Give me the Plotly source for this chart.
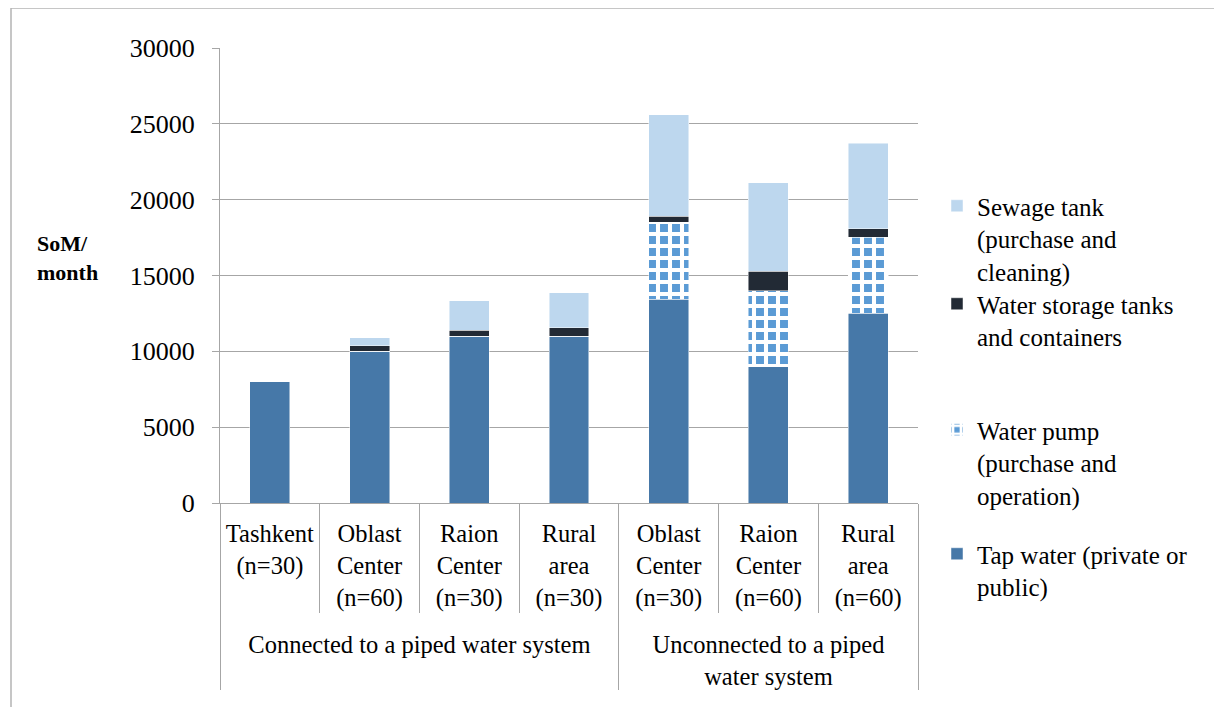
import plotly.graph_objects as go

# ---- data ----
groups = ["Connected to a piped water system"] * 4 + ["Unconnected to a piped<br>water system"] * 3
subcats = [
    "Tashkent<br>(n=30)",
    "Oblast<br>Center<br>(n=60)",
    "Raion<br>Center<br>(n=30)",
    "Rural<br>area<br>(n=30)",
    "Oblast<br>Center<br>(n=30)",
    "Raion<br>Center<br>(n=60)",
    "Rural<br>area<br>(n=60)",
]
tap_water = [8000, 10000, 11000, 11000, 13450, 9000, 12500]
water_pump = [0, 0, 0, 0, 5050, 5000, 5030]
storage_tanks = [0, 380, 390, 550, 420, 1270, 550]
sewage_tank = [0, 500, 1930, 2300, 6680, 5850, 5630]

series_names = [
    "Tap water (private or<br>public)",
    "Water pump<br>(purchase and<br>operation)",
    "Water storage tanks<br>and containers",
    "Sewage tank<br>(purchase and<br>cleaning)",
]
y_ticks = [0, 5000, 10000, 15000, 20000, 25000, 30000]

FONT = "Liberation Serif, Times New Roman, Times, serif"
GRID = "#A6A6A6"
FS = 25

# small invisible trailing line to give the lower label row more room
spacer = "<br><span style='font-size:1px'>&nbsp;</span>"
x = [groups, [s + spacer for s in subcats]]

W, H = 1222, 707
OFF = 8  # page offset of the plot div
L, R, T, B = 220, 918, 48, 503  # plot area in page pixels
pw, ph = R - L, B - T


def px_x(p):
    return (p - L) / pw


def px_y(p):
    return (B - p) / ph


fig = go.Figure()
edge = dict(color="rgba(255,255,255,0.6)", width=0.8)
fig.add_trace(go.Bar(x=x, y=tap_water, name=series_names[0], legend="legend4",
                     marker=dict(color="#4678A8", line=edge)))
fig.add_trace(go.Bar(x=x, y=water_pump, name=series_names[1], legend="legend3",
                     marker=dict(color="#5B9BD5", line=edge,
                                 pattern=dict(shape="+", fgcolor="white", bgcolor="#5B9BD5",
                                              size=12, solidity=0.56, fillmode="replace"))))
fig.add_trace(go.Bar(x=x, y=storage_tanks, name=series_names[2], legend="legend2",
                     marker=dict(color="#222A35", line=edge)))
fig.add_trace(go.Bar(x=x, y=sewage_tank, name=series_names[3], legend="legend",
                     marker=dict(color="#BDD7EE", line=edge)))


def leg(top_px):
    return dict(
        x=px_x(937), y=px_y(top_px), xanchor="left", yanchor="top",
        font=dict(family=FONT, size=FS, color="black"),
        itemwidth=30, valign="top",
        bgcolor="rgba(0,0,0,0)",
    )


fig.update_layout(
    width=W, height=H,
    barmode="stack",
    bargap=0.6,
    paper_bgcolor="white",
    plot_bgcolor="white",
    margin=dict(l=L - OFF, r=W - R + OFF, t=T - OFF, b=H - B + OFF, autoexpand=False),
    font=dict(family=FONT, size=FS, color="black"),
    showlegend=True,
    legend=leg(183),
    legend2=leg(281),
    legend3=leg(407),
    legend4=leg(531),
    xaxis=dict(
        type="multicategory",
        showdividers=True,
        dividercolor=GRID,
        dividerwidth=1,
        tickson="boundaries",
        ticks="outside",
        ticklen=109,
        tickcolor=GRID,
        tickwidth=1,
        showline=True,
        linecolor=GRID,
        linewidth=1,
        showgrid=False,
        ticklabelstandoff=9,
        tickfont=dict(family=FONT, size=24.5, color="black"),
        automargin=False,
        fixedrange=True,
    ),
    yaxis=dict(
        range=[0, 30000],
        tickvals=y_ticks,
        ticktext=[str(v) for v in y_ticks],
        showgrid=True,
        gridcolor=GRID,
        gridwidth=1,
        showline=True,
        linecolor=GRID,
        linewidth=1,
        ticks="outside",
        ticklen=7,
        tickcolor=GRID,
        ticklabelstandoff=12,
        tickfont=dict(family=FONT, size=26, color="black"),
        zeroline=False,
        automargin=False,
        fixedrange=True,
    ),
    annotations=[
        dict(text="<b>SoM/<br>month</b>", xref="paper", yref="paper",
             x=px_x(67), y=px_y(258), xanchor="center", yanchor="middle",
             showarrow=False, align="left",
             font=dict(family=FONT, size=22, color="black")),
    ],
    shapes=[
        dict(type="line", xref="paper", yref="paper",
             x0=px_x(11), x1=px_x(11), y0=px_y(8), y1=px_y(720),
             line=dict(color="#B3B3B3", width=1.5)),
        dict(type="line", xref="paper", yref="paper",
             x0=px_x(11), x1=px_x(1230), y0=px_y(8), y1=px_y(8),
             line=dict(color="#B3B3B3", width=1.5)),
    ],
)

fig.write_html("out.html")
